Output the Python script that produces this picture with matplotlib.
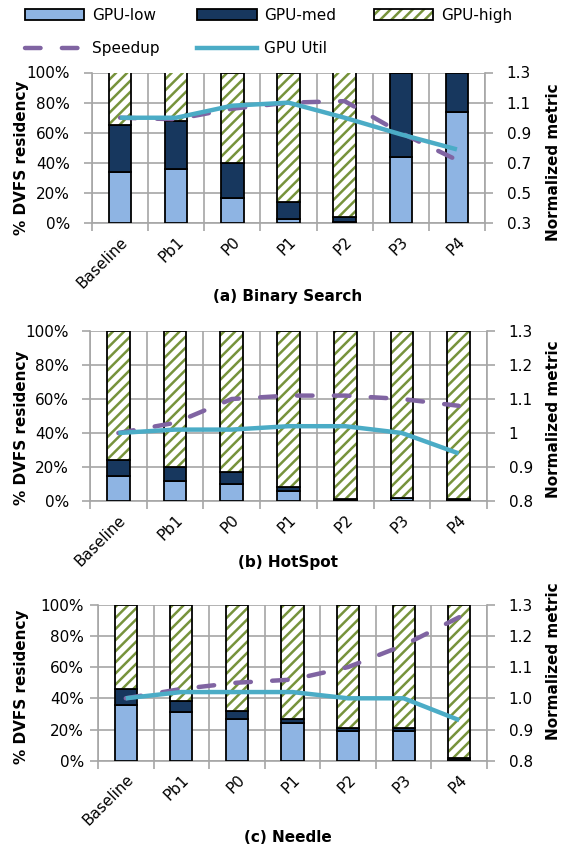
import matplotlib
matplotlib.use('Agg')
import matplotlib.pyplot as plt
from matplotlib.patches import Patch, Rectangle
from matplotlib.lines import Line2D
from matplotlib.legend_handler import HandlerBase
from matplotlib.ticker import FixedLocator, FuncFormatter
import numpy as np

plt.rcParams['font.family'] = ['DejaVu Sans']
plt.rcParams['hatch.linewidth'] = 1.8

# benchmark configs on the x axis
configs = ['Baseline', 'Pb1', 'P0', 'P1', 'P2', 'P3', 'P4']

# (a) Binary Search: DVFS residency (%) and normalized metrics
bs_low = [34, 36, 17, 3, 1, 44, 74]
bs_med = [31, 32, 23, 11, 3, 56, 26]
bs_speedup = [1.0, 0.99, 1.06, 1.10, 1.11, 0.90, 0.72]
bs_util = [1.0, 1.0, 1.08, 1.10, 1.0, 0.89, 0.79]

# (b) HotSpot
hs_low = [15, 12, 10, 6, 0.5, 1.5, 0.5]
hs_med = [9, 8, 7, 2, 0.5, 0.5, 0.5]
hs_speedup = [1.0, 1.03, 1.10, 1.11, 1.11, 1.10, 1.08]
hs_util = [1.0, 1.01, 1.01, 1.02, 1.02, 1.0, 0.94]

# (c) Needle
nd_low = [36, 31, 27, 24, 19, 19, 0.3]
nd_med = [10, 7, 5, 3, 2, 2, 1.5]
nd_speedup = [1.0, 1.03, 1.05, 1.06, 1.10, 1.17, 1.26]
nd_util = [1.0, 1.02, 1.02, 1.02, 1.0, 1.0, 0.93]

LOW = '#8EB4E3'
MED = '#17375E'
HIGH = '#77933C'
SPEED = '#8064A2'
UTIL = '#4BACC6'
GRID = '#A6A6A6'
DASH = (3.5, 4.8)

W, H = 576, 852
fig = plt.figure(figsize=(W / 100, H / 100), dpi=100)


def px_rect(left, right, top, bottom):
    return [left / W, 1 - bottom / H, (right - left) / W, (bottom - top) / H]


def panel(rect, low, med, speedup, util, rticks, rfmt, lpad, title, title_y, ylab_y, rlab_y):
    low = np.array(low, dtype=float)
    med = np.array(med, dtype=float)
    high = 100 - low - med
    x = np.arange(len(configs))
    bw = 0.4

    ax = fig.add_axes(px_rect(*rect))
    ax.bar(x, low, bw, color=LOW, edgecolor='black', linewidth=1.3, zorder=3)
    ax.bar(x, med, bw, bottom=low, color=MED, edgecolor='black', linewidth=1.3, zorder=3)
    ax.bar(x, high, bw, bottom=low + med, color='white', edgecolor=HIGH,
           hatch='///', linewidth=0, zorder=3)
    ax.bar(x, high, bw, bottom=low + med, fill=False, edgecolor='black',
           linewidth=1.3, zorder=4)

    ax.set_xlim(-0.5, len(configs) - 0.5)
    ax.set_ylim(0, 100)
    ax.set_yticks(np.arange(0, 101, 20))
    ax.yaxis.set_major_formatter(FuncFormatter(lambda v, p: '%d%%' % v))
    ax.set_xticks(x)
    ax.set_xticklabels(configs, rotation=45, ha='right', va='top',
                       rotation_mode='anchor', fontsize=11)
    ax.xaxis.set_minor_locator(FixedLocator(np.arange(-0.5, len(configs), 1)))
    ax.tick_params(axis='x', which='major', length=0, pad=8)
    ax.tick_params(axis='x', which='minor', length=6, width=1.2, color=GRID)
    ax.tick_params(axis='y', length=6, width=1.2, color=GRID, labelsize=11, pad=lpad)
    ax.grid(axis='y', which='major', color=GRID, linewidth=1.2, zorder=0)
    ax.grid(axis='x', which='minor', color=GRID, linewidth=1.2, zorder=0)
    ax.set_axisbelow(True)
    for s in ['left', 'bottom', 'right']:
        ax.spines[s].set_color(GRID)
        ax.spines[s].set_linewidth(1.2)
    ax.spines['top'].set_visible(False)

    ax2 = ax.twinx()
    ax2.plot(x, speedup, color=SPEED, linewidth=3.2, dashes=DASH,
             dash_capstyle='round', zorder=5)
    ax2.plot(x, util, color=UTIL, linewidth=3.2, solid_capstyle='butt', zorder=6)
    ax2.set_ylim(rticks[0], rticks[-1])
    ax2.set_yticks(rticks)
    ax2.yaxis.set_major_formatter(FuncFormatter(rfmt))
    ax2.tick_params(axis='y', length=6, width=1.2, color=GRID, labelsize=11, pad=9.5)
    for s in ['left', 'bottom', 'right', 'top']:
        ax2.spines[s].set_visible(False)

    fig.text(288 / W, 1 - title_y / H, title, ha='center', va='center',
             fontsize=11, fontweight='bold')
    fig.text(22 / W, 1 - ylab_y / H, '% DVFS residency', rotation=90,
             ha='center', va='center', fontsize=11, fontweight='bold')
    fig.text(553 / W, 1 - rlab_y / H, 'Normalized metric', rotation=90,
             ha='center', va='center', fontsize=11, fontweight='bold')
    return ax


panel((92, 485, 72.5, 223.3), bs_low, bs_med, bs_speedup, bs_util,
      [0.3, 0.5, 0.7, 0.9, 1.1, 1.3], lambda v, p: '%.1f' % v, 10,
      '(a) Binary Search', 297, 158, 162)
panel((90, 487, 331, 501), hs_low, hs_med, hs_speedup, hs_util,
      [0.8, 0.9, 1.0, 1.1, 1.2, 1.3], lambda v, p: '1' if abs(v - 1) < 1e-9 else '%.1f' % v, 9,
      '(b) HotSpot', 563, 428, 419)
panel((98, 487, 604.7, 760.7), nd_low, nd_med, nd_speedup, nd_util,
      [0.8, 0.9, 1.0, 1.1, 1.2, 1.3], lambda v, p: '%.1f' % v, 4,
      '(c) Needle', 838, 687, 661)


class HatchedBox(HandlerBase):
    # green hatch with a black outline, same as the GPU-high bars
    def create_artists(self, legend, orig_handle, xdescent, ydescent,
                       width, height, fontsize, trans):
        fill = Rectangle((-xdescent, -ydescent), width, height, facecolor='white',
                         edgecolor=HIGH, hatch='///', linewidth=0, transform=trans)
        edge = Rectangle((-xdescent, -ydescent), width, height, fill=False,
                         edgecolor='black', linewidth=1.3, transform=trans)
        return [fill, edge]


# legend across the top
h_low = Patch(facecolor=LOW, edgecolor='black', linewidth=1.3)
h_med = Patch(facecolor=MED, edgecolor='black', linewidth=1.3)
h_high = Patch(facecolor='white', edgecolor='black')
h_speed = Line2D([], [], color=SPEED, linewidth=3.2, dashes=DASH, dash_capstyle='round')
h_util = Line2D([], [], color=UTIL, linewidth=3.2)
fig.legend([h_low, h_speed, h_med, h_util, h_high],
           ['GPU-low', 'Speedup', 'GPU-med', 'GPU Util', 'GPU-high'],
           ncol=3, loc='upper left', bbox_to_anchor=(11 / W, 1 + 6 / H),
           frameon=False, fontsize=11, handlelength=3.9, handleheight=0.8,
           handletextpad=0.5, columnspacing=2.45, labelspacing=1.2,
           handler_map={h_high: HatchedBox()})

fig.savefig('out.png', dpi=100)
